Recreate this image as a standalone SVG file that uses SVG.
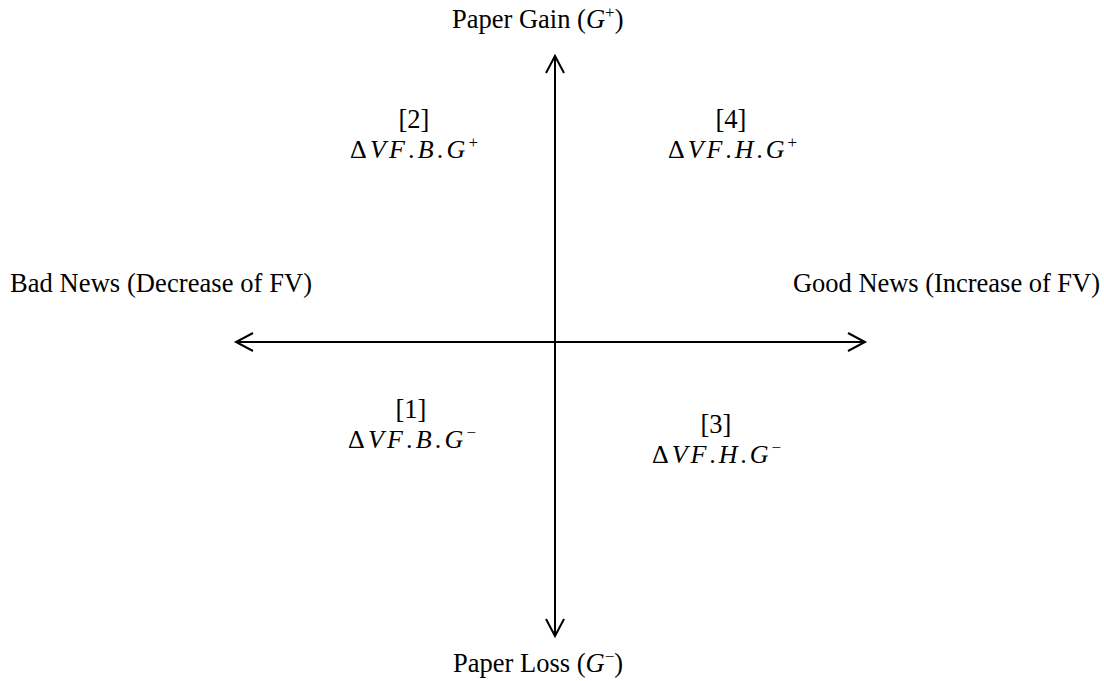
<svg xmlns="http://www.w3.org/2000/svg" width="1104" height="681" viewBox="0 0 1104 681">
<style>
.t{font-family:"Liberation Serif","Times New Roman",serif;font-size:26.5px;fill:#000}
.m{font-family:"Liberation Serif","Times New Roman",serif;font-size:26px;fill:#000}
.i{font-style:italic}
.sup{font-size:17px}
.ax{stroke:#000;stroke-width:2;fill:none}
.ah{stroke:#000;stroke-width:2;fill:none;stroke-linejoin:miter}
</style>
<rect width="1104" height="681" fill="#fff"/>
<g id="connectors">
<line class="ax" x1="555" y1="56" x2="555" y2="636"/>
<line class="ax" x1="236" y1="342" x2="865" y2="342"/>
<polyline class="ah" points="546,73 555,56 564,73"/>
<polyline class="ah" points="546,619 555,636 564,619"/>
<polyline class="ah" points="253,333 236,342 253,351"/>
<polyline class="ah" points="848,333 865,342 848,351"/>
</g>
<g id="top-label"><text class="t" x="452" y="28">Paper Gain (<tspan class="i">G</tspan><tspan class="sup" dy="-10">+</tspan><tspan dy="10">)</tspan></text></g>
<g id="bottom-label"><text class="t" x="453" y="672">Paper Loss (<tspan class="i">G</tspan><tspan class="sup" dy="-10">−</tspan><tspan dy="10">)</tspan></text></g>
<g id="left-label"><text class="t" x="10" y="292" textLength="302" lengthAdjust="spacing">Bad News (Decrease of FV)</text></g>
<g id="right-label"><text class="t" x="793" y="292" textLength="307" lengthAdjust="spacing">Good News (Increase of FV)</text></g>
<g id="q2">
<text class="t" x="414" y="128" text-anchor="middle">[2]</text>
<text class="m" x="350" y="158" textLength="128" lengthAdjust="spacing">Δ<tspan class="i">VF</tspan>.<tspan class="i">B</tspan>.<tspan class="i">G</tspan><tspan class="sup" dy="-10">+</tspan></text>
</g>
<g id="q4">
<text class="t" x="731" y="128" text-anchor="middle">[4]</text>
<text class="m" x="668" y="158" textLength="129" lengthAdjust="spacing">Δ<tspan class="i">VF</tspan>.<tspan class="i">H</tspan>.<tspan class="i">G</tspan><tspan class="sup" dy="-10">+</tspan></text>
</g>
<g id="q1">
<text class="t" x="411" y="418" text-anchor="middle">[1]</text>
<text class="m" x="348" y="448" textLength="128" lengthAdjust="spacing">Δ<tspan class="i">VF</tspan>.<tspan class="i">B</tspan>.<tspan class="i">G</tspan><tspan class="sup" dy="-10">−</tspan></text>
</g>
<g id="q3">
<text class="t" x="716" y="433" text-anchor="middle">[3]</text>
<text class="m" x="652" y="463" textLength="129" lengthAdjust="spacing">Δ<tspan class="i">VF</tspan>.<tspan class="i">H</tspan>.<tspan class="i">G</tspan><tspan class="sup" dy="-10">−</tspan></text>
</g>
</svg>
